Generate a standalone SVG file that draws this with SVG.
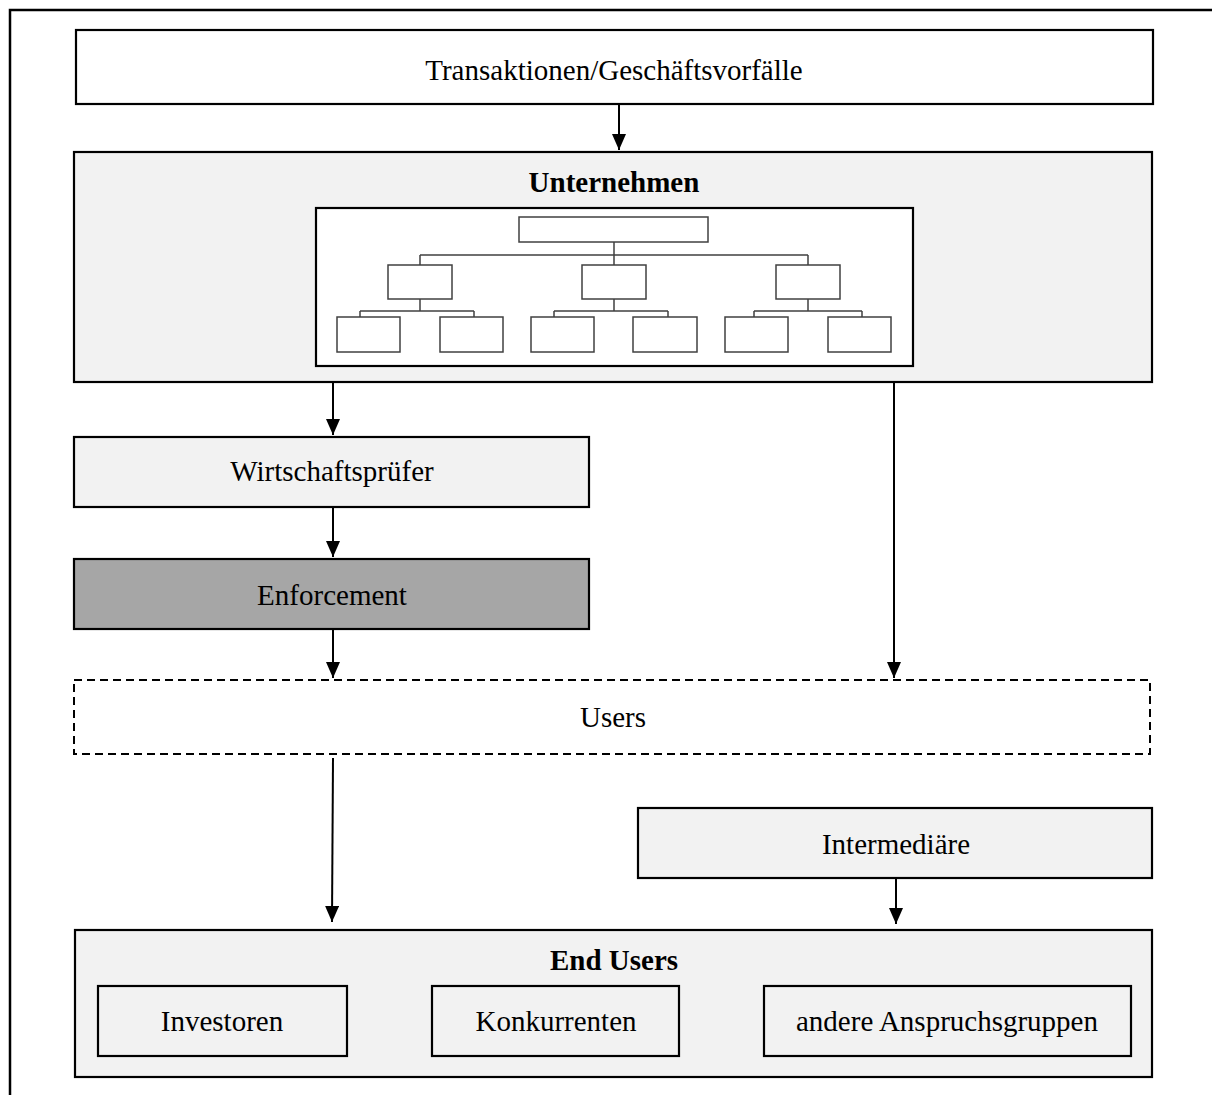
<svg xmlns="http://www.w3.org/2000/svg" width="1212" height="1095" viewBox="0 0 1212 1095">
<style>
.box{stroke:#000;stroke-width:2.2}
.lt{fill:#f2f2f2}
.wh{fill:#fff}
.dk{fill:#a6a6a6}
.dash{fill:#fff;stroke:#000;stroke-width:2;stroke-dasharray:8 5}
.org{fill:#fff;stroke:#404040;stroke-width:1.5}
.ol{fill:none;stroke:#404040;stroke-width:1.5}
.t{font-family:"Liberation Serif","Times New Roman",serif;font-size:29px;fill:#000;text-anchor:middle}
.b{font-weight:bold}
.c{fill:none;stroke:#000;stroke-width:2}
</style>
<defs>
<marker id="ah" markerUnits="userSpaceOnUse" markerWidth="16" markerHeight="14" refX="16" refY="7" orient="auto" viewBox="0 0 16 14">
<path d="M0,0 L16,7 L0,14 Z" fill="#000"/>
</marker>
</defs>
<rect x="10" y="10" width="1230" height="1110" fill="#fff" stroke="#000" stroke-width="2.5"/>

<g id="transaktionen">
<rect class="box wh" x="76" y="30" width="1077" height="74"/>
<text class="t" x="614" y="80">Transaktionen/Geschäftsvorfälle</text>
</g>

<g id="unternehmen">
<rect class="box lt" x="74" y="152" width="1078" height="230"/>
<text class="t b" x="614" y="192">Unternehmen</text>
<rect class="box wh" x="316" y="208" width="597" height="158"/>
<g id="orgchart">
<rect class="org" x="519" y="217" width="189" height="25"/>
<path class="ol" d="M614,242 V265 M420,255 H808 M420,255 V265 M808,255 V265"/>
<rect class="org" x="388" y="265" width="64" height="34"/>
<rect class="org" x="582" y="265" width="64" height="34"/>
<rect class="org" x="776" y="265" width="64" height="34"/>
<path class="ol" d="M420,299 V311 M360,311 H474 M360,311 V317 M474,311 V317 M614,299 V311 M554,311 H668 M554,311 V317 M668,311 V317 M808,299 V311 M754,311 H862 M754,311 V317 M862,311 V317"/>
<rect class="org" x="337" y="317" width="63" height="35"/>
<rect class="org" x="440" y="317" width="63" height="35"/>
<rect class="org" x="531" y="317" width="63" height="35"/>
<rect class="org" x="633" y="317" width="64" height="35"/>
<rect class="org" x="725" y="317" width="63" height="35"/>
<rect class="org" x="828" y="317" width="63" height="35"/>
</g>
</g>

<g id="wirtschaftspruefer">
<rect class="box lt" x="74" y="437" width="515" height="70"/>
<text class="t" x="332" y="481">Wirtschaftsprüfer</text>
</g>

<g id="enforcement">
<rect class="box dk" x="74" y="559" width="515" height="70"/>
<text class="t" x="332" y="605">Enforcement</text>
</g>

<g id="users">
<rect class="dash" x="74" y="680" width="1076" height="74"/>
<text class="t" x="613" y="727">Users</text>
</g>

<g id="intermediaere">
<rect class="box lt" x="638" y="808" width="514" height="70"/>
<text class="t" x="896" y="854">Intermediäre</text>
</g>

<g id="endusers">
<rect class="box lt" x="75" y="930" width="1077" height="147"/>
<text class="t b" x="614" y="970">End Users</text>
<g id="investoren">
<rect class="box lt" x="98" y="986" width="249" height="70"/>
<text class="t" x="222" y="1031">Investoren</text>
</g>
<g id="konkurrenten">
<rect class="box lt" x="432" y="986" width="247" height="70"/>
<text class="t" x="556" y="1031">Konkurrenten</text>
</g>
<g id="andere">
<rect class="box lt" x="764" y="986" width="367" height="70"/>
<text class="t" x="947" y="1031">andere Anspruchsgruppen</text>
</g>
</g>

<g id="connectors">
<path class="c" d="M619,104 V150" marker-end="url(#ah)"/>
<path class="c" d="M333,382 V435" marker-end="url(#ah)"/>
<path class="c" d="M894,382 V678" marker-end="url(#ah)"/>
<path class="c" d="M333,507 V557" marker-end="url(#ah)"/>
<path class="c" d="M333,629 V678" marker-end="url(#ah)"/>
<path class="c" d="M333,758 L332,922" marker-end="url(#ah)"/>
<path class="c" d="M896,878 V924" marker-end="url(#ah)"/>
</g>
</svg>
